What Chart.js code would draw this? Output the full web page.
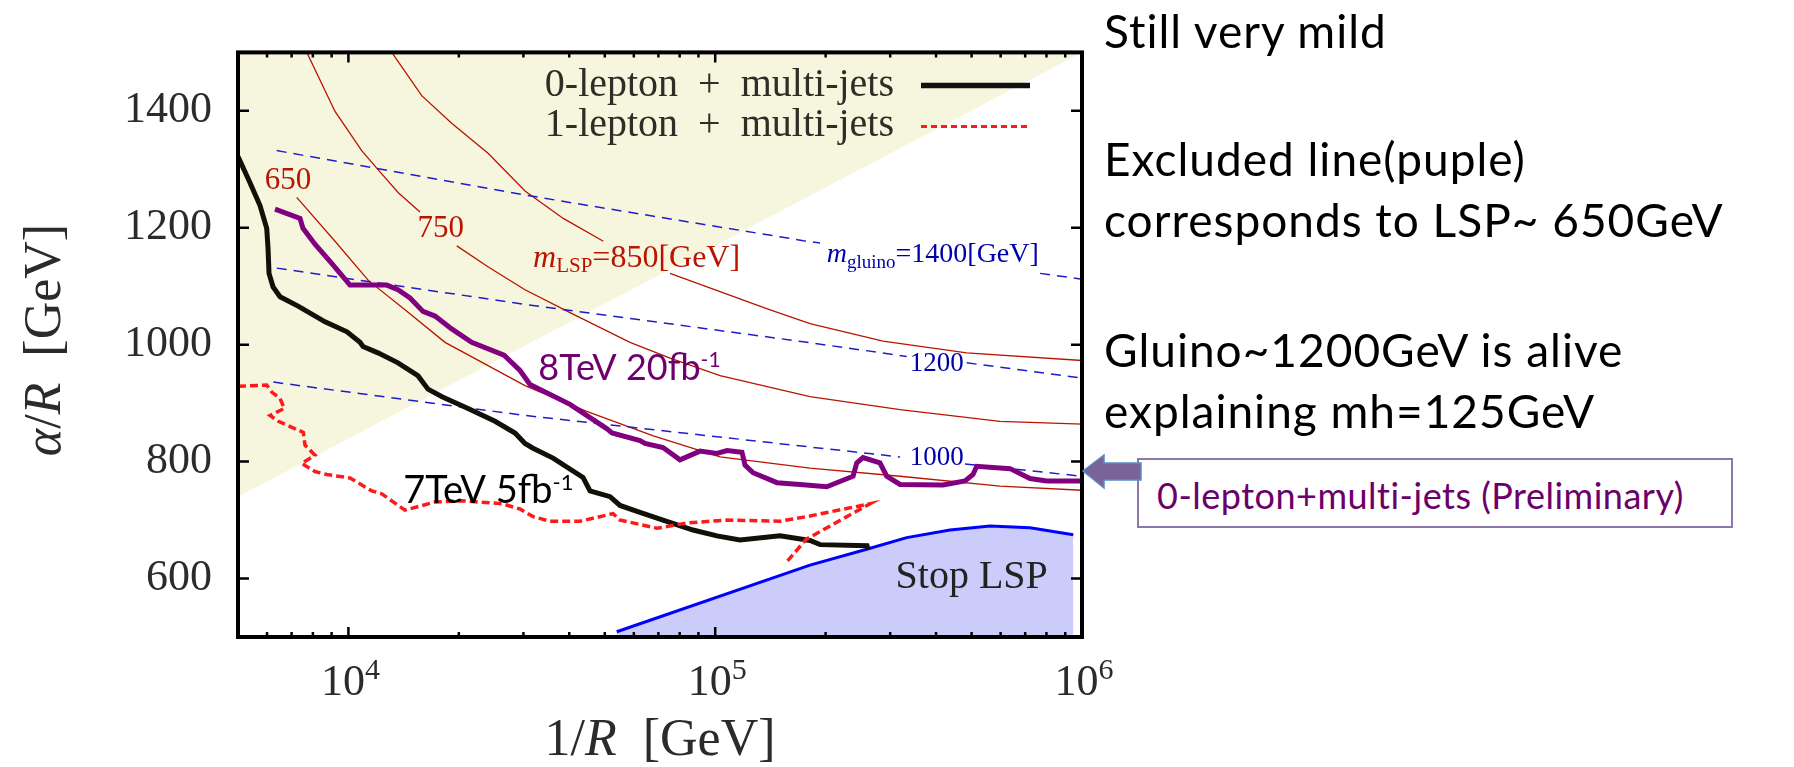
<!DOCTYPE html>
<html>
<head>
<meta charset="utf-8">
<script src="https://cdn.jsdelivr.net/npm/chart.js@4.4.0/dist/chart.umd.min.js"></script>
<style>
  html, body { margin: 0; padding: 0; background: #fff; }
  #wrap { position: relative; width: 1794px; height: 767px; overflow: hidden; }
  #plot { position: absolute; left: 0; top: 0; }
  .note { position: absolute; left: 1104px; font-family: Lato, "Open Sans", sans-serif; font-size: 46px; letter-spacing: 1px; line-height: 61px; color: #000; white-space: nowrap; }
  #box { position: absolute; left: 1137px; top: 458px; width: 596px; height: 70px; box-sizing: border-box; border: 2px solid #8c78ab; background: #fff; }
  #box span { position: absolute; left: 18px; top: 14px; font-family: Lato, "Open Sans", sans-serif; font-size: 36px; letter-spacing: 0.5px; line-height: 1.2; color: #6b006b; white-space: nowrap; }
  #arrow { position: absolute; left: 0; top: 0; }
</style>
</head>
<body>
<div id="wrap">
  <canvas id="plot" width="1794" height="767"></canvas>
  <div class="note" style="top:0px">Still very mild</div>
  <div class="note" style="top:128px">Excluded line(puple)<br>corresponds to LSP~ 650GeV</div>
  <div class="note" style="top:319px">Gluino~1200GeV is alive<br>explaining mh=125GeV</div>
  <div id="box"><span>0-lepton+multi-jets (Preliminary)</span></div>
  <svg id="arrow" width="1794" height="767">
    <polygon points="1083,471 1104,455 1104,463 1141,463 1141,480 1104,480 1104,488" fill="#7a6396" stroke="#5b8ac6" stroke-width="1.5"/>
  </svg>
</div>
<script>
const xRange = [5000, 1e6];
const yRange = [500, 1500];
const yTicks = [600, 800, 1000, 1200, 1400];
const xTicks = [1e4, 1e5, 1e6];
const xTickExp = ['4', '5', '6'];

// 0-lepton + multi-jets, 7TeV 5fb-1
const zl7X = [5000, 5391, 5741, 5988, 6037, 6075, 6230, 6510, 7290, 8636, 9913, 10756, 10960, 12040, 13650, 15470, 16480, 18000, 21190, 25100, 28460, 30300, 31870, 36130, 43610, 45570, 51680, 55020, 61210, 72060, 87000, 101100, 116800, 150200, 181300, 193100, 259400, 261000];
const zl7Y = [1322, 1277, 1238, 1199, 1165, 1122, 1099, 1082, 1066, 1039, 1022, 1004, 997, 986, 969, 947, 924, 911, 891, 869, 849, 831, 823, 806, 773, 750, 740, 725, 715, 700, 683, 673, 666, 673, 665, 658, 656, 650];

// 0-lepton + multi-jets, 8TeV 20fb-1
const zl8X = [6308, 7380, 7520, 8107, 9005, 10100, 12720, 13650, 14720, 15970, 17220, 19120, 21680, 26560, 29360, 31270, 40190, 50700, 52320, 62370, 64350, 72060, 80170, 90900, 101100, 107700, 118300, 120600, 126800, 147400, 170300, 201400, 237600, 243200, 252900, 281300, 293500, 319100, 417900, 479800, 504500, 516400, 636700, 721600, 801400, 1000000];
const zl8Y = [1232, 1216, 1199, 1172, 1139, 1102, 1102, 1094, 1080, 1057, 1049, 1027, 1004, 982, 956, 932, 898, 856, 849, 836, 831, 824, 803, 818, 814, 819, 816, 794, 781, 764, 761, 757, 775, 798, 807, 798, 775, 761, 760, 767, 778, 792, 788, 771, 767, 767];

// 1-lepton + multi-jets, 7TeV
const ol7X = [5000, 5988, 6180, 6510, 6688, 6113, 6440, 7535, 7615, 8107, 7459, 8107, 8728, 10100, 11573, 12323, 14265, 17220, 20370, 26180, 29360, 31870, 35440, 42800, 52650, 55020, 69390, 83780, 107700, 150200, 181300, 264300, 176900, 155000];
const ol7Y = [929, 931, 919, 908, 891, 879, 869, 850, 828, 811, 797, 783, 778, 772, 750, 745, 717, 731, 733, 728, 719, 706, 698, 698, 711, 700, 686, 695, 700, 698, 707, 728, 667, 625];

// stop LSP region
const stopX = [53890, 181300, 258800, 332700, 436700, 561400, 721600, 947000];
const stopY = [509, 623, 650, 670, 683, 690, 687, 675];

// shaded region boundary
const shadeX = [5000, 1000000];
const shadeY = [740, 1500];

// m_LSP contours (null = gap for label)
const lsp650X = [7228, 9194, 11330, 14570, 18340, 30300, 44630, 67820, 103100, 181300, 319100, 597600, 1000000];
const lsp650Y = [1252, 1177, 1110, 1055, 1004, 930, 886, 844, 808, 789, 775, 758, 751];
const lsp750X = [7500, 9194, 10870, 12060, 13680, 15670, 17000, 19740, 24070, 30300, 40190, 58570, 75300, 103100, 181300, 319100, 597600, 1000000];
const lsp750Y = [1515, 1399, 1332, 1299, 1260, 1227, null, 1169, 1133, 1094, 1055, 1004, 977, 947, 911, 889, 869, 864];
const lsp850X = [12800, 15840, 19120, 24070, 30300, 38530, 49550, 60000, 75300, 139300, 181300, 286800, 484900, 1000000];
const lsp850Y = [1510, 1426, 1379, 1327, 1263, 1216, 1177, null, 1122, 1061, 1036, 1006, 986, 973];

// m_gluino contours
const glu1400X = [6375, 30300, 70700, 173900, 193100, 400000, 768600, 1000000];
const glu1400Y = [1332, 1256, 1218, 1178, 1174, null, 1122, 1112];
const glu1200X = [6375, 30300, 173900, 332700, 400000, 484800, 1000000];
const glu1200Y = [1131, 1069, 1005, 980, null, 969, 943];
const glu1000X = [6242, 30300, 181300, 319100, 400000, 479800, 1000000];
const glu1000Y = [936, 879, 825, 808, null, 796, 775];

const SERIF = '"Liberation Serif", "DejaVu Serif", serif';
const SANS = 'Lato, "Open Sans", sans-serif';
const lspColor = 'rgb(185,20,0)';
const gluColor = 'rgb(30,30,200)';
const purple = 'rgb(128,0,128)';

const pts = (xs, ys) => xs.map((x, i) => ({x, y: ys[i]}));

function lsp(xs, ys) {
  return { data: pts(xs, ys), borderColor: lspColor, borderWidth: 1.3, order: 5 };
}
function glu(xs, ys) {
  return { data: pts(xs, ys), borderColor: gluColor, borderWidth: 1.5, borderDash: [10, 7], order: 4 };
}

// text made of pieces: {t, size, italic, dy, family}
function run(ctx, parts, x, y, align) {
  let w = 0;
  parts.forEach(p => {
    ctx.font = (p.italic ? 'italic ' : '') + p.size + 'px ' + (p.family || SERIF);
    p.w = ctx.measureText(p.t).width;
    w += p.w;
  });
  let cx = align === 'center' ? x - w / 2 : align === 'right' ? x - w : x;
  ctx.textAlign = 'left';
  parts.forEach(p => {
    ctx.font = (p.italic ? 'italic ' : '') + p.size + 'px ' + (p.family || SERIF);
    ctx.fillText(p.t, cx, y + (p.dy || 0));
    cx += p.w;
  });
}

const annot = {
  id: 'annot',
  afterDraw(chart) {
    const {ctx, chartArea: a, scales: {x, y}} = chart;
    const px = v => x.getPixelForValue(v), py = v => y.getPixelForValue(v);
    ctx.save();
    ctx.textBaseline = 'alphabetic';

    // contour labels
    ctx.fillStyle = lspColor;
    run(ctx, [{t: '650', size: 31}], px(6843), py(1266), 'center');
    run(ctx, [{t: '750', size: 31}], px(17850), py(1184), 'center');
    run(ctx, [{t: 'm', size: 32, italic: true}, {t: 'LSP', size: 21, dy: 5}, {t: '=850[GeV]', size: 32}], px(31870), py(1133), 'left');
    ctx.fillStyle = 'rgb(0,0,170)';
    run(ctx, [{t: 'm', size: 28, italic: true}, {t: 'gluino', size: 19, dy: 6}, {t: '=1400[GeV]', size: 28}], px(201400), py(1141), 'left');
    run(ctx, [{t: '1200', size: 27}], px(401700), py(955), 'center');
    run(ctx, [{t: '1000', size: 27}], px(401700), py(794), 'center');
    ctx.fillStyle = '#222';
    run(ctx, [{t: 'Stop LSP', size: 40}], px(500300), py(584), 'center');

    // analysis labels
    ctx.fillStyle = '#000';
    run(ctx, [{t: '7TeV 5fb', size: 38, family: SANS}, {t: '-1', size: 22, dy: -13, family: SANS}], px(14110), py(729), 'left');
    ctx.fillStyle = 'rgb(110,0,110)';
    run(ctx, [{t: '8TeV 20fb', size: 36, family: SANS}, {t: '-1', size: 21, dy: -13, family: SANS}], px(32940), py(939), 'left');

    // legend
    ctx.fillStyle = '#2e2e26';
    run(ctx, [{t: '0-lepton  +  multi-jets', size: 40}], 894, a.top + 44, 'right');
    run(ctx, [{t: '1-lepton  +  multi-jets', size: 40}], 894, a.top + 84, 'right');
    ctx.strokeStyle = '#111';
    ctx.lineWidth = 5.5;
    ctx.beginPath(); ctx.moveTo(921, a.top + 33); ctx.lineTo(1030, a.top + 33); ctx.stroke();
    ctx.strokeStyle = '#ff1a1a';
    ctx.lineWidth = 3;
    ctx.setLineDash([6, 4]);
    ctx.beginPath(); ctx.moveTo(921, a.top + 74); ctx.lineTo(1030, a.top + 74); ctx.stroke();
    ctx.setLineDash([]);

    // frame and inward ticks
    ctx.strokeStyle = '#000';
    ctx.lineWidth = 4;
    ctx.strokeRect(a.left, a.top, a.right - a.left, a.bottom - a.top);
    ctx.lineWidth = 2.5;
    ctx.beginPath();
    yTicks.forEach(v => {
      const p = py(v);
      ctx.moveTo(a.left, p); ctx.lineTo(a.left + 11, p);
      ctx.moveTo(a.right, p); ctx.lineTo(a.right - 11, p);
    });
    for (let d = 3; d <= 6; d++) {
      for (let k = 1; k <= 9; k++) {
        const v = k * Math.pow(10, d);
        if (v <= xRange[0] || v >= xRange[1]) continue;
        const p = px(v), len = k === 1 ? 10 : 5;
        ctx.moveTo(p, a.bottom); ctx.lineTo(p, a.bottom - len);
        ctx.moveTo(p, a.top); ctx.lineTo(p, a.top + len);
      }
    }
    ctx.stroke();

    // x tick labels 10^n
    ctx.fillStyle = '#2b2b2b';
    xTicks.forEach((v, i) => {
      run(ctx, [{t: '10', size: 44}, {t: xTickExp[i], size: 30, dy: -16}], px(v) + 2, 695, 'center');
    });

    // axis titles
    const mid = (a.left + a.right) / 2;
    run(ctx, [{t: '1/', size: 52}, {t: 'R', size: 52, italic: true}, {t: '\u2002[GeV]', size: 52}], mid, 755, 'center');
    ctx.translate(60, 340);
    ctx.rotate(-Math.PI / 2);
    run(ctx, [{t: 'α', size: 52, italic: true}, {t: '/', size: 52}, {t: 'R', size: 52, italic: true}, {t: '\u2002[GeV]', size: 52}], 0, 0, 'center');
    ctx.restore();
  }
};

new Chart(document.getElementById('plot').getContext('2d'), {
  type: 'line',
  data: {
    datasets: [
      { data: pts(zl8X, zl8Y), borderColor: purple, borderWidth: 5, order: 0 },
      { data: pts(ol7X, ol7Y), borderColor: '#ff1a1a', borderWidth: 3.5, borderDash: [8, 4], order: 1 },
      { data: pts(zl7X, zl7Y), borderColor: '#111108', borderWidth: 5, order: 2 },
      { data: pts(stopX, stopY), borderColor: '#0000ff', borderWidth: 3, backgroundColor: 'rgb(204,204,250)', fill: 'start', order: 3 },
      glu(glu1400X, glu1400Y),
      glu(glu1200X, glu1200Y),
      glu(glu1000X, glu1000Y),
      lsp(lsp650X, lsp650Y),
      lsp(lsp750X, lsp750Y),
      lsp(lsp850X, lsp850Y),
      { data: pts(shadeX, shadeY), borderWidth: 0, borderColor: 'rgba(0,0,0,0)', backgroundColor: 'rgb(246,245,222)', fill: 'end', order: 10 }
    ]
  },
  options: {
    responsive: false,
    animation: false,
    events: [],
    layout: { padding: { left: 0, top: 34, right: 712, bottom: 0 } },
    plugins: { legend: { display: false }, tooltip: { enabled: false } },
    elements: { point: { radius: 0 }, line: { tension: 0 } },
    scales: {
      x: {
        type: 'logarithmic', min: xRange[0], max: xRange[1],
        grid: { display: false }, border: { display: false },
        ticks: { display: false },
        afterFit: s => { s.height = 130; }
      },
      y: {
        type: 'linear', min: yRange[0], max: yRange[1],
        grid: { display: false, drawTicks: false }, border: { display: false },
        ticks: { font: { family: 'Liberation Serif', size: 44 }, color: '#2b2b2b', padding: 26, callback: v => String(v) },
        afterBuildTicks: s => { s.ticks = yTicks.map(v => ({value: v})); },
        afterFit: s => { s.width = 238; }
      }
    }
  },
  plugins: [annot]
});
</script>
</body>
</html>
